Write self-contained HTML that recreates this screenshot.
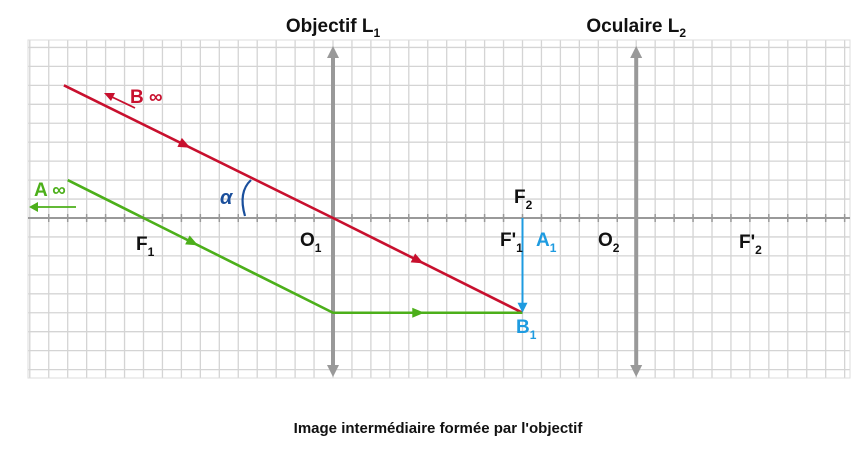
<!DOCTYPE html>
<html><head><meta charset="utf-8"><style>
body{margin:0;background:#fff;width:868px;height:465px;overflow:hidden;font-family:"Liberation Sans",sans-serif}
svg text{font-family:"Liberation Sans",sans-serif;font-weight:bold}
</style></head><body>
<svg id="c" width="868" height="465"></svg>
<script>
// data in grid units (x relative to O1, y positive up)
const lensNames=["Objectif L","Oculaire L"];
const lensX=[0,16];
const focal1=10;
const imageA1=[10,0];
const imageB1=[10,-5];
const redRay=[[-14.2,7],[0,0],[10,-5]];
const greenRay=[[-14,2],[-10,0],[0,-5],[10,-5]];
const NS="http://www.w3.org/2000/svg";
const svg=document.getElementById('c');
const cell=18.95, ox=333, oy=218;
const X=v=>ox+v*cell, Y=v=>oy-v*cell;
function el(t,a,p){const e=document.createElementNS(NS,t);for(const k in a)e.setAttribute(k,a[k]);(p||svg).appendChild(e);return e;}
// grid
const g=el('g',{});


for(let i=-16;i<=27;i++){const x=X(i);if(x<28||x>850)continue;el('line',{x1:x,y1:40,x2:x,y2:378,stroke:'#d4d4d4','stroke-width':1.3},g);}
for(let j=-8;j<=9;j++){const y=Y(j);if(y<40||y>378)continue;el('line',{x1:28,y1:y,x2:850,y2:y,stroke:'#d4d4d4','stroke-width':1.3},g);}
el('rect',{x:28,y:40,width:822,height:338,fill:'none',stroke:'#ddd'},g);
// optical axis
const ax=el('line',{x1:28,y1:oy,x2:850,y2:oy,stroke:'#999','stroke-width':2});


for(let i=-16;i<=27;i++){const x=X(i);if(x<30||x>848)continue;el('line',{x1:x,y1:oy-4,x2:x,y2:oy+4,stroke:'#999','stroke-width':1.5});}
// lenses
lensX.forEach((lx,i)=>{
 const x=X(lx);
 const l=el('g',{});
 
 
 el('line',{x1:x,y1:55,x2:x,y2:368,stroke:'#999','stroke-width':4},l);
 el('polygon',{points:`${x-6},58 ${x+6},58 ${x},46`,fill:'#999'},l);
 el('polygon',{points:`${x-6},365 ${x+6},365 ${x},377`,fill:'#999'},l);
 const t=el('text',{x:x,y:32,'text-anchor':'middle','font-size':19,fill:'#111'});
 
 
 t.textContent=lensNames[i];
 const s=el('tspan',{'font-size':12,dy:5},t);s.textContent=String(i+1);
});
function poly(pts,col,name){const p=el('polyline',{points:pts.map(q=>X(q[0])+','+Y(q[1])).join(' '),fill:'none',stroke:col,'stroke-width':2.6});
 }
function arrowAt(a,b,t,col){const x=X(a[0])+(X(b[0])-X(a[0]))*t,y=Y(a[1])+(Y(b[1])-Y(a[1]))*t;
 const ang=Math.atan2(Y(b[1])-Y(a[1]),X(b[0])-X(a[0]))*180/Math.PI;
 const p=el('polygon',{points:'6,0 -6,-5 -6,5',fill:col,transform:`translate(${x},${y}) rotate(${ang})`});
 }
poly(redRay,'#c8102e','red-ray');
poly(greenRay,'#4caf1a','green-ray');
arrowAt(redRay[0],redRay[1],0.45,'#c8102e');
arrowAt(redRay[1],redRay[2],0.45,'#c8102e');
arrowAt(greenRay[1],greenRay[2],0.26,'#4caf1a');
arrowAt(greenRay[2],greenRay[3],0.45,'#4caf1a');
// image A1B1
const im=el('line',{x1:X(imageA1[0]),y1:Y(imageA1[1]),x2:X(imageB1[0]),y2:Y(imageB1[1])-8,stroke:'#1e9be0','stroke-width':2});

el('polygon',{points:`${X(10)-5},${Y(-5)-10} ${X(10)+5},${Y(-5)-10} ${X(10)},${Y(-5)}`,fill:'#1e9be0'});
// infinity arrows
el('line',{x1:112,y1:97,x2:135,y2:108,stroke:'#c8102e','stroke-width':1.8});
el('polygon',{points:'104,93 115,93 111,101',fill:'#c8102e'});
el('line',{x1:35,y1:207,x2:76,y2:207,stroke:'#4caf1a','stroke-width':1.8});
el('polygon',{points:'29,207 38,202 38,212',fill:'#4caf1a'});
// alpha arc
el('path',{d:'M251,180 Q238,192 245,216',fill:'none',stroke:'#1a4f9c','stroke-width':2.2});
function label(x,y,txt,sub,col,size,name){const t=el('text',{x:x,y:y,'font-size':size||19,fill:col||'#111'});
 
 t.textContent=txt;if(sub){const s=el('tspan',{'font-size':12,dy:6},t);s.textContent=sub;}return t;}
label(130,103,'B ∞','','#c8102e',19,'label-b-infinity');
label(34,196,'A ∞','','#4caf1a',19,'label-a-infinity');
const al=label(220,204,'α','','#1a4f9c',20,'label-alpha');al.setAttribute('font-style','italic');
label(136,250,'F','1','#111',19,'label-f1');
label(300,246,'O','1','#111',19,'label-o1');
label(514,203,'F','2','#111',19,'label-f2');
label(500,246,"F'",'1','#111',19,'label-f1-prime');
label(536,246,'A','1','#1e9be0',19,'label-a1');
label(598,246,'O','2','#111',19,'label-o2');
label(739,248,"F'",'2','#111',19,'label-f2-prime');
label(516,333,'B','1','#1e9be0',19,'label-b1');
const cap=el('text',{x:438,y:433,'text-anchor':'middle','font-size':15,fill:'#111'});

cap.textContent="Image intermédiaire formée par l'objectif";
</script>
</body></html>
